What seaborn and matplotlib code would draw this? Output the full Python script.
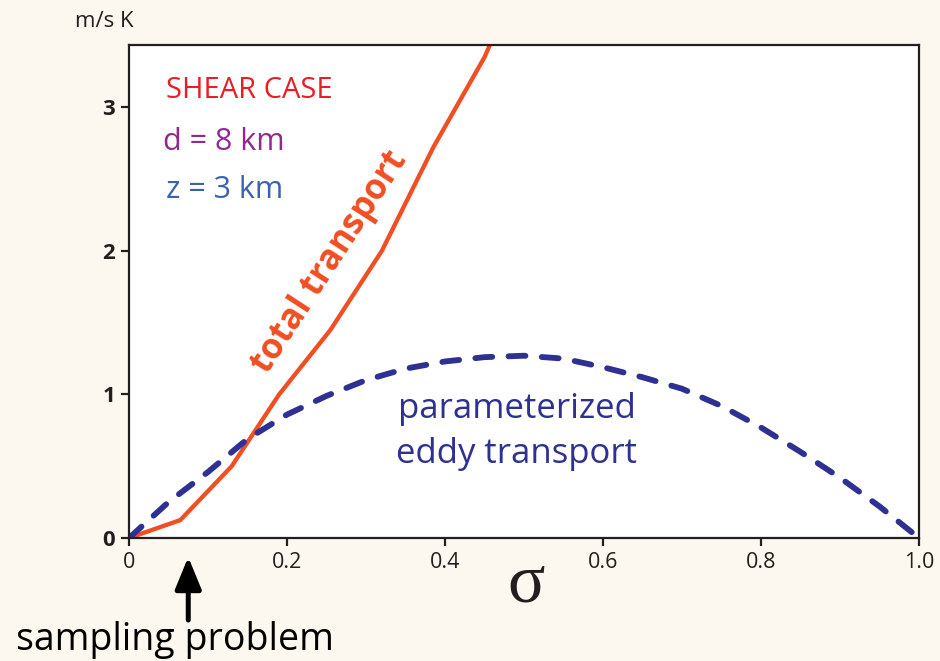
import matplotlib
matplotlib.use("Agg")
import matplotlib.pyplot as plt
import seaborn as sns
import pandas as pd

# total transport (shear case) versus sigma
total_sigma = [0.0, 0.065, 0.13, 0.19, 0.255, 0.32, 0.385, 0.45, 0.47]
total_flux = [0.0, 0.125, 0.50, 1.00, 1.45, 2.00, 2.72, 3.35, 3.60]

# parameterized eddy transport versus sigma
eddy_sigma = [0.0, 0.05, 0.10, 0.15, 0.20, 0.25, 0.30, 0.35, 0.40, 0.45, 0.50,
              0.55, 0.60, 0.65, 0.70, 0.75, 0.80, 0.85, 0.90, 0.95, 1.0]
eddy_flux = [0.0, 0.25, 0.46, 0.69, 0.86, 0.99, 1.10, 1.18, 1.23, 1.26, 1.27,
             1.25, 1.19, 1.12, 1.04, 0.92, 0.77, 0.60, 0.42, 0.22, 0.0]

x_ticks = [0, 0.2, 0.4, 0.6, 0.8, 1.0]
x_tick_labels = ["0", "0.2", "0.4", "0.6", "0.8", "1.0"]
y_ticks = [0, 1, 2, 3]
y_tick_labels = ["0", "1", "2", "3"]

sns.set_style("white")
plt.rcParams["font.family"] = ["Open Sans", "DejaVu Sans"]

BG = "#fdf8ef"
RED = "#f04e23"
NAVY = "#2e3192"
INK = "#231f20"

fig = plt.figure(figsize=(9.4, 6.61), dpi=100, facecolor=BG)
ax = fig.add_axes([129 / 940, 123 / 661, 790 / 940, 493 / 661])
ax.set_facecolor("white")

df_total = pd.DataFrame({"sigma": total_sigma, "flux": total_flux})
df_eddy = pd.DataFrame({"sigma": eddy_sigma, "flux": eddy_flux})

sns.lineplot(data=df_total, x="sigma", y="flux", ax=ax, color=RED,
             linewidth=3.1, sort=False, estimator=None)
sns.lineplot(data=df_eddy, x="sigma", y="flux", ax=ax, color=NAVY,
             linewidth=4.2, sort=False, estimator=None)
eddy_line = ax.lines[-1]
eddy_line.set_dashes([2.9, 2.8])
eddy_line.set_dash_capstyle("round")

ax.set_xlim(0, 1.0)
ax.set_ylim(0, 3.435)
ax.set_xlabel("")
ax.set_ylabel("")
ax.set_xticks(x_ticks)
ax.set_xticklabels(x_tick_labels, fontsize=15.5, color=INK)
ax.set_yticks(y_ticks)
ax.set_yticklabels(y_tick_labels, fontsize=16, fontweight="bold", color=INK)
ax.tick_params(axis="both", direction="out", length=6, width=1.6,
               color=INK, left=True, bottom=True, pad=4)
for sp in ax.spines.values():
    sp.set_visible(True)
    sp.set_color(INK)
    sp.set_linewidth(1.6)

# annotations inside the plot
ax.text(0.047, 3.066, "SHEAR CASE", color="#ed1c24", fontsize=21,
        ha="left", va="baseline")
ax.text(0.043, 2.704, "d = 8 km", color="#92278f", fontsize=22,
        ha="left", va="baseline")
ax.text(0.047, 2.369, "z = 3 km", color="#3a62ad", fontsize=22,
        ha="left", va="baseline")
ax.text(0.254, 1.92, "total transport", color=RED, fontsize=25,
        fontweight="bold", rotation=57, ha="center", va="center",
        rotation_mode="anchor")
ax.text(0.491, 0.836, "parameterized", color=NAVY, fontsize=25,
        ha="center", va="baseline")
ax.text(0.491, 0.523, "eddy transport", color=NAVY, fontsize=25,
        ha="center", va="baseline")

# labels around the frame
fig.text(75 / 940, 1 - 27 / 661, "m/s K", fontsize=16, ha="left",
         va="baseline", color=INK)
fig.text(526 / 940, 1 - 601 / 661, "σ", fontsize=50, ha="center",
         va="baseline", family=["Liberation Serif", "DejaVu Serif"], color=INK)
fig.text(175 / 940, 1 - 650 / 661, "sampling problem", fontsize=27,
         ha="center", va="baseline", color="black")

# arrow pointing at the undersampled region
ax.annotate("", xy=(0.075, 1 - 557 / 661), xycoords=("data", "figure fraction"),
            xytext=(0.075, 1 - 620 / 661), textcoords=("data", "figure fraction"),
            arrowprops=dict(arrowstyle="-|>,head_length=1.95,head_width=0.8",
                            mutation_scale=10, color="black", lw=3.6,
                            shrinkA=0, shrinkB=0),
            annotation_clip=False)

fig.savefig("out.png", dpi=100, facecolor=BG)
